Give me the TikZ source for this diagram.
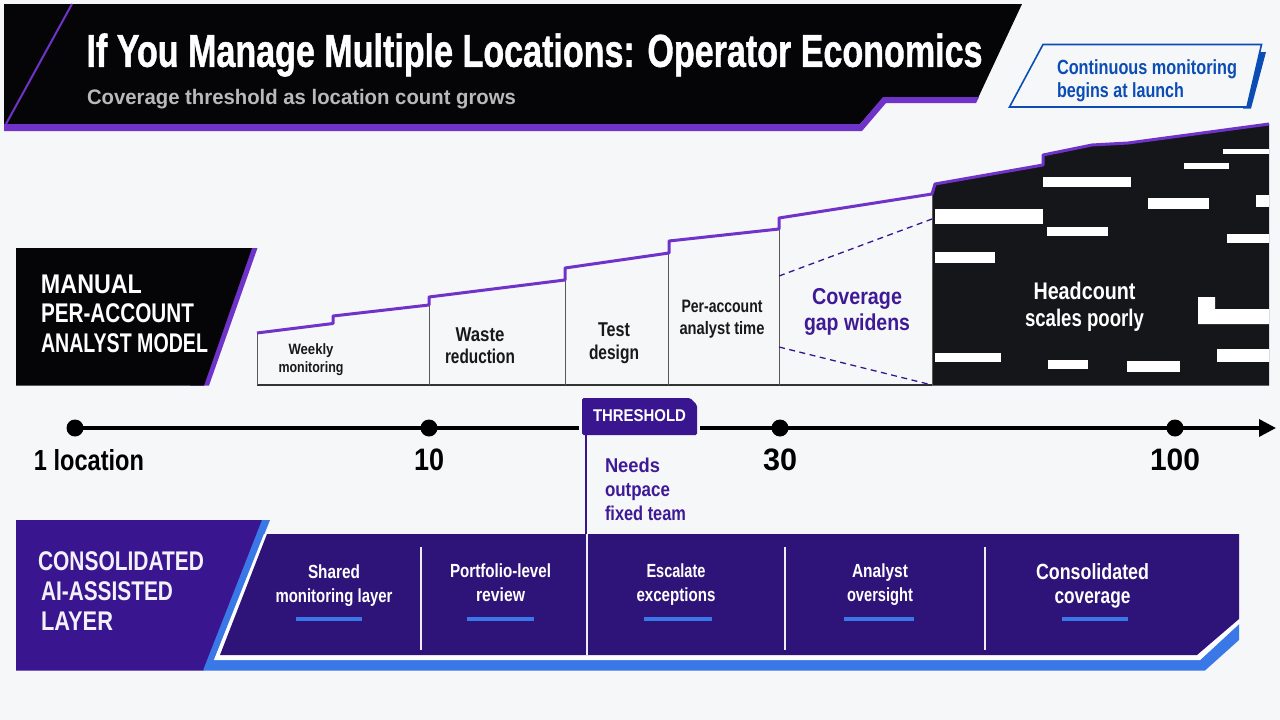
\documentclass[tikz,border=0pt]{standalone}
\usepackage{graphicx}
\usepackage{fontspec}
\setmainfont{Liberation Sans}
\newfontfamily\titlefont[BoldFeatures={FakeBold=1.2}]{Liberation Sans}
\usetikzlibrary{arrows.meta}
\definecolor{bgc}{HTML}{F6F7F9}
\definecolor{hdr}{HTML}{050507}
\definecolor{blk}{HTML}{14161A}
\definecolor{pur}{HTML}{6F33C9}
\definecolor{dpur}{HTML}{2E1478}
\definecolor{mpur}{HTML}{3A1590}
\definecolor{tpur}{HTML}{3F1A96}
\definecolor{blu}{HTML}{3B78E7}
\definecolor{cblu}{HTML}{0B4DB5}
\definecolor{gry}{HTML}{B9B9BB}
\newcommand\fs[2]{\fontsize{#1}{#2}\selectfont\bfseries}
\newcommand\fx[2]{\resizebox{#1pt}{\height}{#2}}
\tikzset{
  txt/.style={inner sep=0pt,outer sep=0pt,align=center},
  ltxt/.style={inner sep=0pt,outer sep=0pt,align=left,anchor=west},
  tick/.style={draw=#1,line width=1.2pt},
  bar/.style={fill=white,draw=none},
  under/.style={draw=blu,line width=3.5pt},
  divider/.style={draw=white!92!dpur,line width=1.4pt},
  dot/.style={circle,fill=black,minimum size=17pt,inner sep=0pt},
  gapline/.style={draw=mpur,line width=1.3pt,dash pattern=on 6pt off 4.5pt}
}
\begin{document}
\begin{tikzpicture}[x=1pt,y=-1pt]
\useasboundingbox (0,0) rectangle (1280,720);
\fill[bgc] (0,0) rectangle (1280,720);

% header
\fill[hdr] (4,4) -- (1022,4) -- (978,98) -- (883,98) -- (860,124) -- (4,124) -- cycle;
\fill[pur] (4,124) -- (860,124) -- (883,97) -- (979,97) -- (976,103) -- (886,103) -- (862,131) -- (4,131) -- cycle;
\draw[pur,line width=2pt] (72,4) -- (6,124);
\node[txt,text=white,font=\titlefont\fs{46}{50}] (title) at (534.5,55) {\fx{896}{If You Manage Multiple Locations: Operator Economics}};
\node[ltxt,text=gry,font=\fs{21}{24}] (subtitle) at (87,99) {\fx{429}{Coverage threshold as location count grows}};

% callout
\fill[cblu] (1258,52) -- (1266,52) -- (1251,108.5) -- (1243,108.5) -- cycle;
\draw[cblu,line width=1.6pt,fill=bgc] (1043,44.5) -- (1261.5,44.5) -- (1247,107) -- (1009.5,107) -- cycle;
\node[ltxt,text=cblu,font=\fs{20.5}{23.5}] (callout) at (1057,80.5) {\fx{180}{Continuous monitoring}\\\fx{127}{begins at launch}};

% manual panel
\fill[pur] (240,248) -- (257.5,248) -- (209,385.5) -- (190,385.5) -- cycle;
\fill[hdr] (16,248) -- (252,248) -- (204,385.5) -- (16,385.5) -- cycle;
\node[ltxt,text=white,font=\fs{27}{29.5}] (manual) at (41,313.5) {\fx{101}{MANUAL}\\\fx{153}{PER-ACCOUNT}\\\fx{167}{ANALYST MODEL}};

% black area
\fill[blk] (932,193) -- (935,184) -- (1043,165) -- (1043,155) -- (1092,145) -- (1128,143) -- (1269,124) -- (1269,385.5) -- (932,385.5) -- cycle;
\fill[bar] (1223,149) rectangle (1269,154);
\fill[bar] (1184,163) rectangle (1229,169);
\fill[bar] (1043,177) rectangle (1131,187);
\fill[bar] (1148,198) rectangle (1209,209);
\fill[bar] (1256,195) rectangle (1269,207);
\fill[bar] (935,209) rectangle (1043,224);
\fill[bar] (1047,227) rectangle (1108,236);
\fill[bar] (1227,234) rectangle (1269,243);
\fill[bar] (935,252) rectangle (995,263);
\fill[bar] (1198,297) -- (1215,297) -- (1215,309) -- (1269,309) -- (1269,324) -- (1198,324) -- cycle;
\fill[bar] (935,353) rectangle (1001,362);
\fill[bar] (1048,360) rectangle (1088,369);
\fill[bar] (1127,361) rectangle (1180,372);
\fill[bar] (1217,349) rectangle (1269,362);
\node[txt,text=white,font=\fs{24}{27}] (headcount) at (1084.5,306.5) {\fx{102}{Headcount}\\\fx{119}{scales poorly}};

% chart frame
\draw[tick=black!80] (257,385) -- (932,385);
\foreach \x/\y in {257/333,429/299,565/270,668/243,779/220,932/193}
  \draw[black!65,line width=1pt] (\x,385) -- (\x,\y);
\draw[gapline] (779,276) -- (932,219);
\draw[gapline] (779,347) -- (932,385);
\draw[pur,line width=3pt,line join=round] (257,333) -- (333,323.5) -- (333,316) -- (429,305) -- (429,297) -- (565,280) -- (565,268) -- (669,253) -- (669,241) -- (779,229) -- (779,218) -- (932,194) -- (935,184) -- (1043,165) -- (1043,155) -- (1092,145) -- (1128,143) -- (1269,124);
\node[txt,text=black!90,font=\fs{15}{17.5}] (weekly) at (311,359.5) {\fx{45}{Weekly}\\\fx{65}{monitoring}};
\node[txt,text=black!90,font=\fs{20}{22.5}] (waste) at (480,345.5) {\fx{49}{Waste}\\\fx{70}{reduction}};
\node[txt,text=black!90,font=\fs{20}{22.5}] (test) at (614,343) {\fx{32}{Test}\\\fx{50}{design}};
\node[txt,text=black!90,font=\fs{18}{22}] (peraccount) at (722,319) {\fx{81}{Per-account}\\\fx{85}{analyst time}};
\node[txt,text=tpur,font=\fs{23}{26}] (gap) at (857,312) {\fx{90}{Coverage}\\\fx{106}{gap widens}};

% timeline
\coordinate (tstart) at (75,428);
\coordinate (tend) at (1276,428);
\node[dot] (d1) at (75,428) {};
\node[dot] (d10) at (429,428) {};
\node[dot] (d30) at (780,428) {};
\node[dot] (d100) at (1175,428) {};
\draw[black,line width=3.5pt,-{Triangle[length=17pt,width=17pt]}] (tstart) -- (tend);
\node[txt,text=black,font=\fs{29}{32}] (l1) at (89,460) {\fx{110}{1 location}};
\node[txt,text=black,font=\fs{31}{34}] (l10) at (429,460) {\fx{30}{10}};
\node[txt,text=black,font=\fs{31}{34}] (l30) at (780,460) {\fx{34}{30}};
\node[txt,text=black,font=\fs{31}{34}] (l100) at (1175,460) {\fx{50}{100}};

% threshold flag
\fill[bgc] (579,420) rectangle (700,436);
\fill[mpur,rounded corners=1.5pt] (582,398) -- (690,398) -- (697,405) -- (697,435) -- (582,435) -- cycle;
\node[txt,text=white,font=\fs{17}{20}] (threshold) at (639.5,416) {\fx{93}{THRESHOLD}};
\node[ltxt,text=tpur,font=\fs{20}{24}] (needs) at (605,489) {\fx{55}{Needs}\\\fx{65}{outpace}\\\fx{81}{fixed team}};

% consolidated
\fill[mpur] (16,520) -- (263,520) -- (204,670.5) -- (16,670.5) -- cycle;
\fill[blu] (203,670.5) -- (262,520) -- (270,520) -- (214,660) -- (1200,660) -- (1239,624) -- (1239,640) -- (1205,670.5) -- cycle;
\fill[white] (214,660) -- (264,534) -- (268,534) -- (220,655) -- (1197,655) -- (1239,619) -- (1239,624) -- (1200,660) -- cycle;
\fill[dpur] (267,534) -- (1239,534) -- (1239,619) -- (1197,655) -- (220,655) -- cycle;
\node[ltxt,text=white!94!mpur,font=\fs{27}{30}] (cons) at (38,591) {\fx{166}{CONSOLIDATED}\\\hspace*{3pt}\fx{132}{AI-ASSISTED}\\\hspace*{3pt}\fx{72}{LAYER}};

\coordinate (thr) at (586,534);
\coordinate (panelbottom) at (587,655);
\draw[mpur,line width=2.2pt] (586,435) -- (thr);
\draw[divider] (587,534) -- (panelbottom);
\foreach \x in {421,785,985} \draw[divider] (\x,547) -- (\x,650);

\node[txt,text=white,font=\fs{19}{24}] (c1) at (334,585.5) {\fx{52}{Shared}\\\fx{117}{monitoring layer}};
\node[txt,text=white,font=\fs{19}{24}] (c2) at (500.5,583) {\fx{101}{Portfolio-level}\\\fx{49}{review}};
\node[txt,text=white,font=\fs{19}{24}] (c3) at (676,585) {\fx{59}{Escalate}\\\fx{79}{exceptions}};
\node[txt,text=white,font=\fs{19}{24}] (c4) at (880,585) {\fx{56}{Analyst}\\\fx{66}{oversight}};
\node[txt,text=white,font=\fs{22}{24}] (c5) at (1092.5,586) {\fx{113}{Consolidated}\\\fx{76}{coverage}};
\draw[under] (296,619) -- (362,619);
\draw[under] (467,619) -- (534,619);
\draw[under] (644,619) -- (712,619);
\draw[under] (844,619) -- (914,619);
\draw[under] (1062,619) -- (1128,619);
\end{tikzpicture}
\end{document}
